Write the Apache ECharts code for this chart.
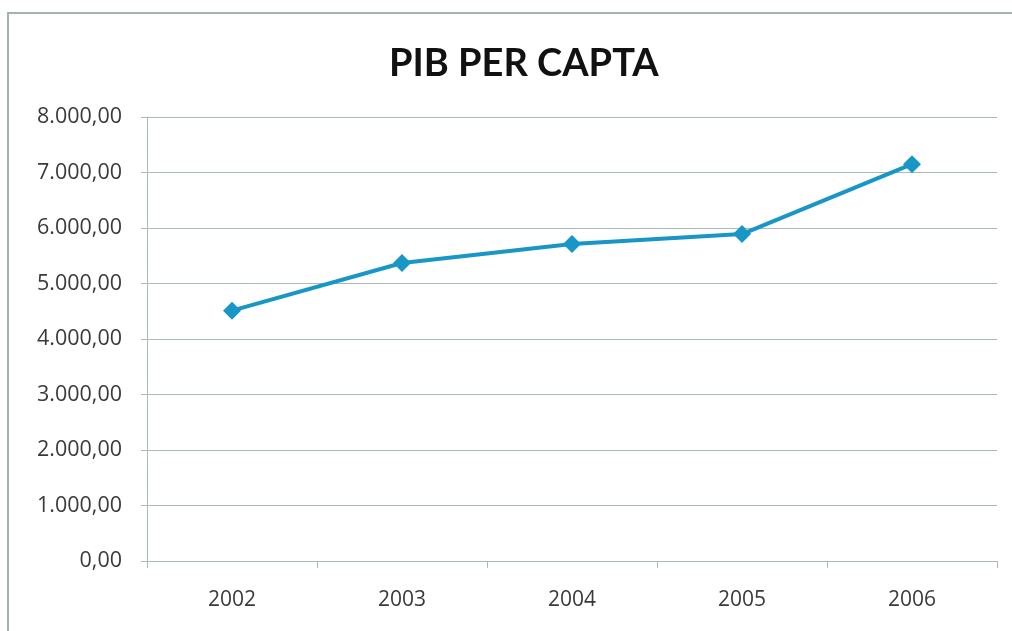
<!DOCTYPE html>
<html>
<head>
<meta charset="utf-8">
<script src="https://cdn.jsdelivr.net/npm/echarts@6/dist/echarts.min.js"></script>
<style>
  html, body { margin: 0; padding: 0; background: #ffffff; }
  #chart { width: 1012px; height: 631px; }
</style>
</head>
<body>
<div id="chart"></div>
<script>
// PIB per capta, 2002–2006
const years = ['2002', '2003', '2004', '2005', '2006'];
const pibValues = [4510, 5370, 5710, 5890, 7150];
const yTicks = [0, 1000, 2000, 3000, 4000, 5000, 6000, 7000, 8000];

// Portuguese number format: 8.000,00
function fmtPt(v) {
  const fixed = v.toFixed(2);
  const [intPart, dec] = fixed.split('.');
  return intPart.replace(/\B(?=(\d{3})+(?!\d))/g, '.') + ',' + dec;
}

const chart = echarts.init(document.getElementById('chart'));
const gridColor = '#aab9ba';
const textColor = '#3a3a3a';

chart.setOption({
  backgroundColor: '#ffffff',
  animation: false,
  title: {
    text: 'PIB PER CAPTA',
    left: 384,
    top: 40,
    textStyle: { fontFamily: 'Lato', fontWeight: 'bold', fontSize: 38, color: '#111111' }
  },
  graphic: [{
    type: 'rect',
    shape: { x: 8, y: 13, width: 1020, height: 640 },
    style: { fill: 'none', stroke: '#a3b3b4', lineWidth: 2 },
    silent: true
  }],
  grid: { left: 147, right: 15, top: 117, bottom: 70 },
  xAxis: {
    type: 'category',
    data: years,
    boundaryGap: true,
    axisLine: { lineStyle: { color: gridColor, width: 1 } },
    axisTick: { show: true, length: 7, alignWithLabel: false, lineStyle: { color: gridColor } },
    axisLabel: { color: textColor, fontFamily: 'Open Sans', fontSize: 21, margin: 29 }
  },
  yAxis: {
    type: 'value',
    min: yTicks[0],
    max: yTicks[yTicks.length - 1],
    interval: yTicks[1] - yTicks[0],
    axisLine: { show: true, lineStyle: { color: gridColor, width: 1 } },
    axisTick: { show: true, length: 6, lineStyle: { color: gridColor } },
    splitLine: { lineStyle: { color: gridColor, width: 1 } },
    axisLabel: { color: textColor, fontFamily: 'Open Sans', fontSize: 21.5, margin: 25, formatter: fmtPt }
  },
  series: [{
    type: 'line',
    data: pibValues,
    symbol: 'diamond',
    symbolSize: 18,
    lineStyle: { color: '#1896c6', width: 4 },
    itemStyle: { color: '#1896c6' }
  }]
});
</script>
</body>
</html>
